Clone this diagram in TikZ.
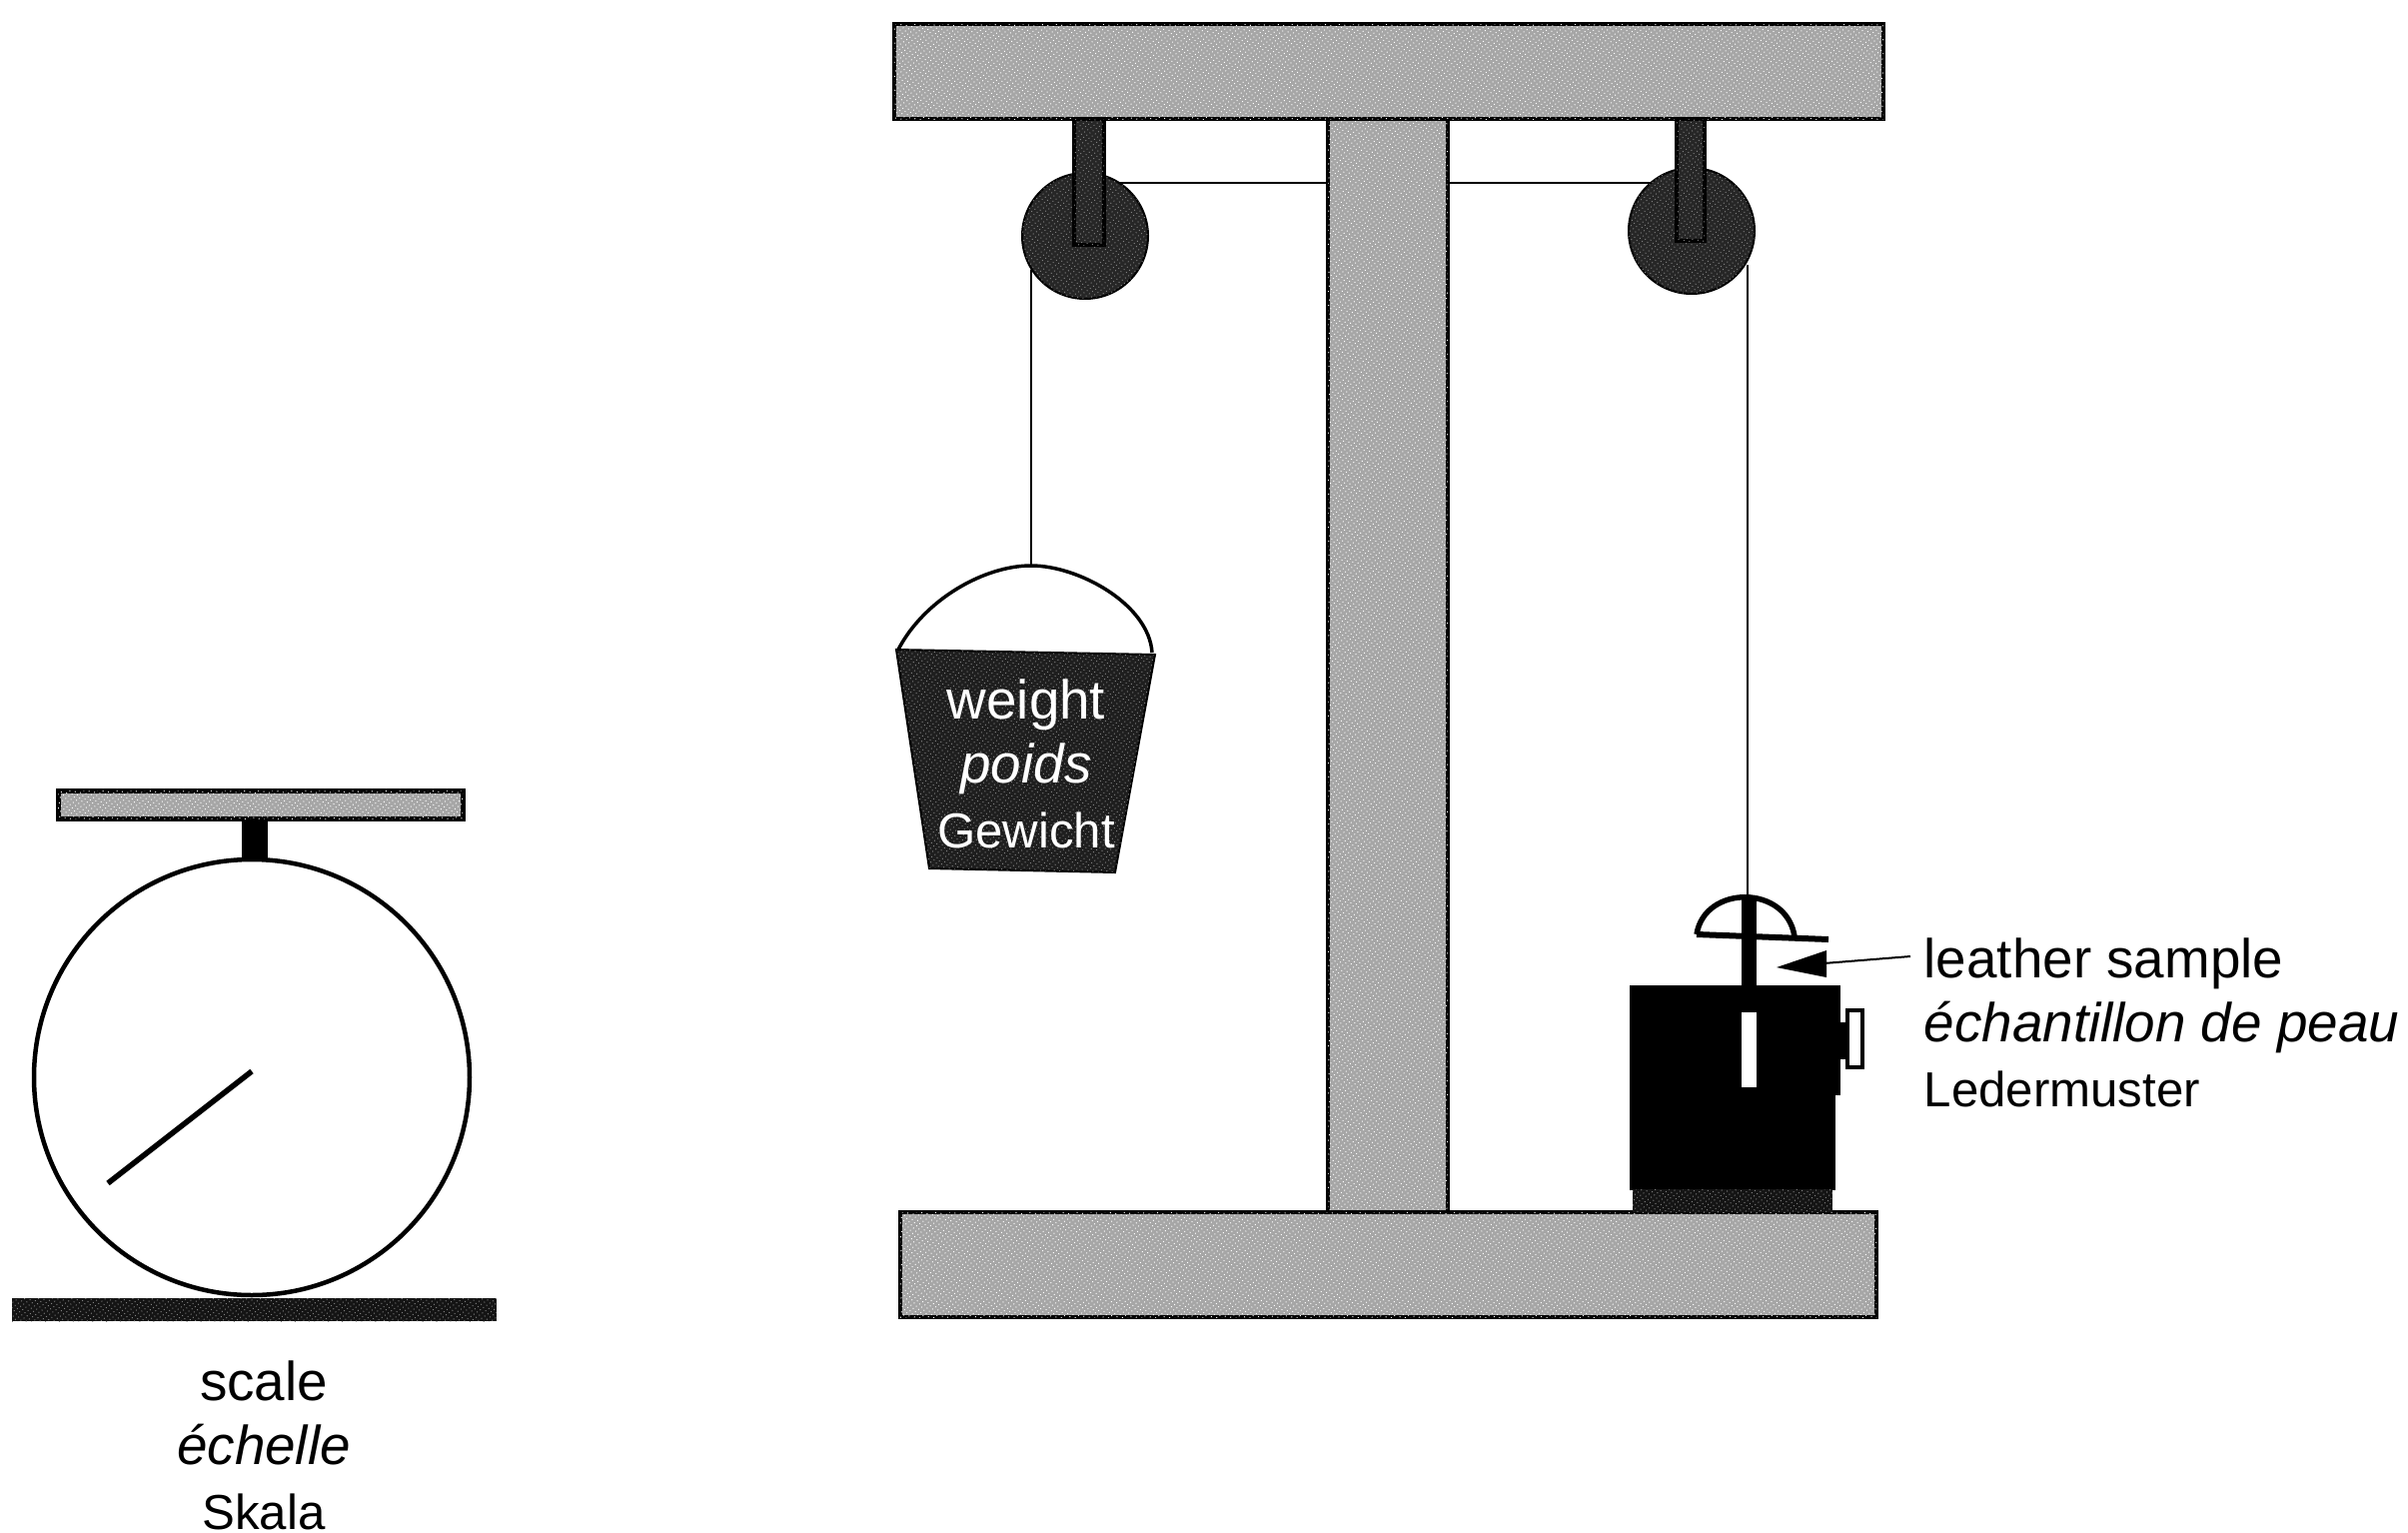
\documentclass[tikz,border=0pt]{standalone}
\usepackage{fontspec}
\setmainfont{Liberation Sans}
\usetikzlibrary{arrows.meta,positioning,patterns.meta}
\definecolor{timber}{HTML}{A6A6A6}
\definecolor{sheave}{HTML}{262626}
\definecolor{pail}{HTML}{1E1E1E}
\definecolor{strip}{HTML}{141414}
\newcommand{\labelfont}{\fontsize{15.6}{18.3}\selectfont}
\newcommand{\capword}[1]{{\fontsize{14}{18.3}\selectfont #1}}

\begin{document}
\begin{tikzpicture}[
  x=0.1mm,y=-0.1mm,
  grain/.style={postaction={pattern={Dots[distance=1.1pt,radius=0.2pt,angle=35]},pattern color=#1}},
  beam/.style={draw=black,fill=timber,line width=0.4mm,grain=white},
  sheavewheel/.style={draw=black,fill=sheave,line width=0.2mm,grain=gray},
  hanger/.style={draw=black,fill=sheave,line width=0.4mm,grain=gray},
  solid part/.style={draw=black,fill=black},
  rope/.style={draw=black,line width=0.2mm},
  caption/.style={font=\labelfont,inner sep=0pt}
]
\useasboundingbox (0,0) rectangle (2410,1534);

% frame
\filldraw[beam] (1329,119) rectangle (1449,1213);
\filldraw[beam] (895,24) rectangle (1885,119);
\filldraw[beam] (901,1213) rectangle (1878,1318);

% ropes, behind the wheels
\coordinate (lefttop) at (1086,183);
\coordinate (righttop) at (1693,183);
\coordinate (pailtop) at (1032,566);
\coordinate (clamptop) at (1749,900);
\draw[rope] (lefttop) -- (1329,183);
\draw[rope] (1449,183) -- (righttop);
\draw[rope] (1032,270) -- (pailtop);
\draw[rope] (1749,265) -- (clamptop);

% pulleys
\filldraw[sheavewheel] (1086,236) circle (63);
\filldraw[sheavewheel] (1693,231) circle (63);
\filldraw[hanger] (1075,119) rectangle (1105,245);
\filldraw[hanger] (1678,119) rectangle (1706,241);

% pail
\draw[line width=0.35mm] (899,650) .. controls (925,600) and (985,566) .. (pailtop)
  .. controls (1080,566) and (1150,605) .. (1153,653);
\filldraw[draw=black,fill=pail,line width=0.2mm,grain=gray] (897,650) -- (1156,655) -- (1116,873) -- (930,869) -- cycle;
\node[caption,text=white,align=center,anchor=base] (pailtext) at (1027,848)
  {weight\\\itshape poids\\\capword{Gewicht}};

% clamp
\filldraw[solid part] (1632,987) -- (1841,987) -- (1841,1095) -- (1836,1095) -- (1836,1190) -- (1632,1190) -- cycle;
\fill[strip,grain=gray] (1634,1190) rectangle (1834,1213);
\fill[black] (1743,900) rectangle (1758,987);
\fill[white] (1743,1013) rectangle (1758,1088);
\draw[line width=0.55mm] (1698,935) .. controls (1706,885) and (1788,885) .. (1796,937);
\draw[line width=0.6mm] (1698,935) -- (1830,940);
\fill[black] (1841,1023) rectangle (1848,1060);
\filldraw[draw=black,fill=white,line width=0.4mm] (1849,1011) rectangle (1864,1068);

% leather sample label
\node[caption,align=left,anchor=base west] (leathertext) at (1925,1107)
  {leather sample\\\itshape échantillon de peau\\\capword{Ledermuster}};
\coordinate (leathertail) at (1912,957);
\coordinate (leathertip) at (1778,968);
\draw[line width=0.2mm] (leathertail) -- (1825,964);
\fill[black] (leathertip) -- (1828,951) -- (1828,978) -- cycle;

% scale
\filldraw[beam,line width=0.5mm] (58,791) rectangle (463,819);
\fill[black] (242,820) rectangle (268,862);
\draw[line width=0.45mm] (252,1078) circle (218);
\draw[line width=0.55mm] (252,1072) -- (108,1184);
\fill[strip,grain=gray] (12,1299) rectangle (497,1322);
\node[caption,align=center,anchor=base] (scaletext) at (264,1530)
  {scale\\\itshape échelle\\\capword{Skala}};
\end{tikzpicture}
\end{document}
